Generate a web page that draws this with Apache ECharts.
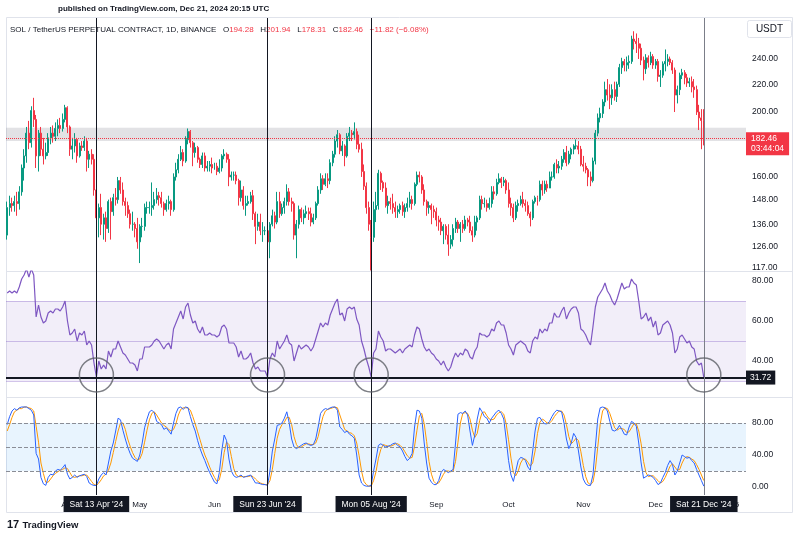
<!DOCTYPE html>
<html>
<head>
<meta charset="utf-8">
<script src="https://cdn.jsdelivr.net/npm/echarts@6/dist/echarts.min.js"></script>
<style>
html, body { margin: 0; padding: 0; background: #fff; }
#main { width: 800px; height: 538px; }
</style>
</head>
<body>
<div id="main"></div>
<script>
// daily candles from Thu 07 Mar 2024, rows are [open, close, low, high]
const ohlc = [
  [131,144,129,147],[144,146,140,150],[146,145,142,149],[145,147,142,150],[147,146,140,152],[146,152,143,155],[152,165,150,167],[165,172,158,176],[172,186,168,190],[186,180,176,194],
  [180,201,177,204],[201,195,190,210],[195,172,165,198],[172,186,163,188],[186,176,172,190],[176,172,167,183],[172,174,170,180],[174,183,172,186],[183,186,179,190],[186,184,180,191],
  [184,189,181,193],[189,191,184,195],[191,189,186,196],[189,195,187,199],[195,203,193,205],[203,190,186,204],[190,176,172,191],[176,178,170,183],[178,182,174,186],[182,172,168,183],
  [172,178,171,180],[178,177,175,181],[177,181,175,184],[181,170,163,183],[170,173,165,175],[173,170,167,176],[170,153,150,173],[153,139,117,155],[139,144,130,146],[144,136,131,151],
  [136,139,129,141],[139,134,128,142],[134,147,132,148],[147,142,129,149],[142,149,140,151],[149,148,145,154],[148,158,146,160],[158,153,151,160],[153,147,145,157],[147,145,140,149],
  [145,141,139,147],[141,136,134,143],[136,136,133,142],[136,134,130,137],[134,128,125,139],[128,135,119,136],[135,135,130,139],[135,144,133,146],[144,144,141,147],[144,144,141,147],
  [144,145,140,157],[145,148,143,152],[148,150,146,154],[150,149,145,152],[149,146,144,152],[146,143,140,147],[143,146,142,148],[146,147,143,150],[147,143,140,148],[143,160,142,162],
  [160,164,158,168],[164,170,162,173],[170,174,169,178],[174,169,166,176],[169,182,168,184],[182,187,179,189],[187,180,177,188],[180,174,166,181],[174,177,171,180],[177,170,168,178],
  [170,167,165,171],[167,172,165,174],[172,165,163,174],[165,166,163,169],[166,167,163,169],[167,165,162,171],[165,166,164,168],[166,163,161,168],[163,165,162,170],[165,172,163,173],
  [172,173,170,176],[173,170,168,174],[170,160,155,173],[160,161,158,163],[161,161,158,163],[161,158,156,163],[158,149,145,159],[149,153,147,158],[153,145,143,155],[145,146,140,150],
  [146,147,145,150],[147,150,146,152],[150,141,138,153],[141,135,127,142],[135,137,133,141],[137,133,131,141],[133,133,128,137],[133,133,131,135],[133,128,126,134],[128,136,121,137],
  [136,140,135,143],[140,137,134,142],[137,147,136,152],[147,141,139,152],[141,144,140,146],[144,147,141,149],[147,152,145,156],[152,147,145,154],[147,146,142,149],[146,131,129,147],
  [131,136,121,138],[136,143,134,145],[143,139,137,144],[139,141,136,143],[141,142,139,145],[142,141,138,144],[141,137,135,144],[137,139,136,141],[139,146,138,147],[146,153,145,155],
  [153,159,151,162],[159,156,153,161],[156,159,155,162],[159,158,154,162],[158,168,156,170],[168,173,166,175],[173,181,171,184],[181,185,177,188],[185,175,173,186],[175,178,172,181],
  [178,172,166,179],[172,184,171,186],[184,186,181,190],[186,185,181,188],[185,187,182,193],[187,179,176,189],[179,176,174,185],[176,163,160,180],[163,155,153,167],[155,144,141,157],
  [144,136,133,147],[136,130,116,138],[130,143,128,147],[143,145,137,152],[145,162,143,164],[162,157,153,163],[157,154,152,158],[154,145,144,157],[145,147,141,150],[147,146,143,149],
  [146,144,141,151],[144,142,139,147],[142,143,139,145],[143,145,141,146],[145,142,140,147],[142,144,139,146],[144,146,142,149],[146,148,144,152],[148,146,143,150],[146,156,145,157],
  [156,161,155,163],[161,160,157,163],[160,153,151,161],[153,147,145,156],[147,144,140,148],[144,145,141,147],[145,143,136,146],[143,142,139,145],[142,138,135,144],[138,137,133,140],
  [137,133,131,139],[133,135,127,136],[135,131,129,136],[131,127,122,136],[127,129,125,131],[129,134,126,136],[134,137,132,139],[137,134,132,138],[134,136,128,137],[136,134,132,138],
  [134,138,133,140],[138,137,135,139],[137,133,132,140],[133,131,128,135],[131,137,130,140],[137,139,133,140],[139,148,138,150],[148,146,143,150],[146,146,144,149],[146,144,142,148],
  [144,146,143,149],[146,152,144,155],[152,151,148,155],[151,157,150,159],[157,159,156,162],[159,157,154,160],[157,158,155,160],[158,153,151,159],[153,146,144,157],[146,144,140,149],
  [144,139,137,146],[139,145,138,147],[145,146,142,148],[146,148,145,150],[148,146,144,152],[146,145,142,148],[145,141,140,147],[141,139,135,142],[139,147,138,148],[147,149,146,150],
  [149,148,145,150],[148,156,147,158],[156,153,150,158],[153,156,151,158],[156,154,152,158],[154,160,154,163],[160,160,158,163],[160,167,159,168],[167,165,162,170],[165,166,162,169],
  [166,170,164,172],[170,174,168,176],[174,168,166,178],[168,173,167,175],[173,176,170,177],[176,178,173,179],[178,178,176,182],[178,176,173,181],[176,167,166,178],[167,166,163,172],
  [166,164,162,168],[164,160,155,165],[160,158,155,163],[158,169,157,171],[169,186,167,188],[186,196,184,199],[196,199,193,203],[199,207,196,209],[207,216,204,222],[216,212,208,224],
  [212,210,202,220],[210,216,205,220],[216,211,208,222],[211,220,207,222],[220,233,218,236],[233,238,228,241],[238,235,230,240],[235,237,230,242],[237,238,232,243],[238,257,236,260],
  [257,255,248,264],[255,253,245,262],[253,249,240,258],[249,239,235,253],[239,232,223,242],[232,241,228,244],[241,237,233,243],[237,242,235,246],[242,235,232,244],[235,238,232,240],
  [238,226,222,240],[226,227,218,231],[227,236,225,238],[236,238,230,248],[238,240,234,244],[240,237,235,242],[237,231,228,239],[231,212,200,233],[212,216,206,219],[216,227,212,229],
  [227,229,224,232],[229,225,220,231],[225,221,218,228],[221,222,218,225],[222,218,214,226],[218,216,210,224],[216,200,198,219],[200,196,188,205],[196,194.28,176,202],[194.28,182.46,178.31,201.94]
];

const rsi = [
  74,75,74,75,74,77,81,83,86,82, 86,83,62,68,62,59,60,64,65,64, 66,66,65,67,70,60,53,54,56,50,
  54,53,55,48,50,48,39,32,40,36, 38,36,45,42,46,46,50,47,44,43, 41,39,39,38,35,41,41,47,47,47,
  48,50,51,50,48,46,48,49,46,56, 59,62,65,61,67,69,63,59,60,56, 54,57,53,53,54,53,53,52,53,57,
  58,56,49,49,49,47,42,45,41,41, 42,44,39,36,37,35,35,35,32,41, 44,42,50,46,48,50,53,49,48,40,
  44,48,46,47,48,47,45,47,51,55, 59,57,59,58,63,66,69,71,63,64, 60,66,67,66,67,61,58,50,46,41,
  37,32,44,46,55,52,50,45,46,46, 45,44,45,46,44,46,47,48,47,53, 57,56,51,47,45,46,44,43,41,40,
  38,40,37,35,37,41,44,42,44,43, 46,45,42,41,45,47,54,53,53,52, 53,56,55,59,60,58,58,54,48,46,
  43,48,49,50,49,48,45,44,50,52, 51,56,54,56,55,59,59,64,62,62, 65,67,61,64,66,67,67,64,56,55,
  53,50,48,57,67,72,74,76,79,75, 73,70,68,71,75,79,76,77,77,81, 79,78,70,61,62,64,60,62,57,60,
  53,54,58,59,60,58,54,44,46,52, 53,51,49,50,47,46,40,38,39,31.72
];

const stochK = [
  78,88,95,98,96,99,100,100,100,98, 96,90,42,35,12,4,2,12,16,15, 20,22,21,24,28,16,10,12,15,12,
  14,15,16,13,5,3,2,2,10,15, 18,15,30,45,55,70,86,84,71,60, 50,42,36,34,32,40,55,74,85,94,
  96,93,82,80,78,72,74,70,66,80, 92,99,100,97,100,99,88,78,70,58, 48,40,33,25,18,12,6,4,18,45,
  65,58,35,20,14,12,13,15,12,13, 14,15,10,5,5,4,3,3,2,20, 45,60,77,78,80,86,94,80,60,50,
  48,50,52,54,55,53,52,53,60,75, 92,96,98,97,99,100,100,96,75,72, 68,70,66,64,61,40,15,5,2,1,
  1,2,20,35,52,54,52,50,51,52, 54,55,52,50,45,38,33,36,42,75, 96,95,86,55,30,11,6,3,3,8,
  18,22,20,18,20,22,55,91,93,92, 95,90,70,52,65,85,99,94,88,86, 80,86,90,94,96,92,85,60,33,15,
  7,20,33,37,36,33,25,21,45,70, 86,87,82,79,79,82,88,93,96,95, 94,80,60,48,55,67,62,45,25,10,
  4,2,2,15,50,85,99,100,99,95, 82,71,70,72,77,72,66,65,75,82, 80,76,55,30,11,13,15,14,12,8,
  3,5,12,18,27,33,28,15,20,30, 40,38,36,37,33,30,22,15,8,1
];

const stochD = [
  70,78,87,94,96,98,98,100,100,99, 98,95,76,56,30,17,6,6,10,14, 17,19,21,22,24,23,18,13,12,13,
  14,14,15,15,11,7,3,2,5,9, 14,16,21,30,43,57,70,80,80,72, 60,51,43,37,34,35,42,56,71,84,
  92,94,90,85,80,77,75,72,70,72, 79,90,97,99,99,99,96,88,79,69, 59,49,40,33,25,18,12,7,9,22,
  43,56,53,38,23,15,13,13,13,13, 13,14,13,10,7,5,4,3,3,8, 22,42,61,72,78,81,87,87,78,63,
  53,49,50,52,54,54,53,53,55,63, 76,88,95,97,98,99,100,99,90,81, 72,70,68,67,64,55,39,20,7,3,
  1,1,8,19,36,47,53,52,51,51, 52,54,54,52,49,44,39,36,37,51, 71,89,92,79,57,32,16,7,4,5,
  10,16,20,20,19,20,32,56,80,92, 93,92,85,71,62,67,83,93,94,89, 85,84,85,90,93,94,91,79,59,36,
  18,14,20,30,35,35,31,26,30,45, 67,81,85,83,80,80,83,88,92,95, 95,90,78,63,54,57,61,58,44,27,
  13,5,3,6,22,50,78,95,99,98, 92,83,74,71,73,73,72,68,69,74, 79,79,70,54,32,18,13,14,14,11,
  8,5,7,12,19,26,29,25,21,22, 30,36,38,37,35,33,28,22,15,8
];

const priceTicks = [117, 126, 136, 148, 160, 200, 220, 240];
const rsiTicks = [40, 60, 80];
const stochTicks = [0, 40, 80];
const markDates = ['2024-04-13', '2024-06-23', '2024-08-05', '2024-12-21'];
const markLabels = ["Sat 13 Apr '24", "Sun 23 Jun '24", "Mon 05 Aug '24", "Sat 21 Dec '24"];
const lastPrice = 182.46;
const rsiLevel = 31.72;
const zoneBand = [181, 189.5];

const monthNames = ['Jan','Feb','Mar','Apr','May','Jun','Jul','Aug','Sep','Oct','Nov','Dec'];
const dates = [];
const startDay = Date.UTC(2024, 2, 7);
for (let i = 0; i < ohlc.length + 17; i++) {
  dates.push(new Date(startDay + i * 86400000).toISOString().slice(0, 10));
}

const FONT = "'Liberation Sans', Arial, sans-serif";
const TXT = '#131722';
const UP = '#089981';
const DOWN = '#f23645';

function vLines(withLabel) {
  return markDates.map(function (d, k) {
    const last = k === markDates.length - 1;
    return {
      xAxis: d,
      lineStyle: { color: last ? '#7b7e88' : '#131722', width: 1, type: 'solid' },
      label: withLabel ? {
        show: true, position: 'start', distance: 1, formatter: markLabels[k],
        backgroundColor: '#131722', color: '#fff', fontSize: 8.5, fontFamily: FONT,
        padding: [4, 6, 3, 6]
      } : { show: false }
    };
  });
}

function hLine(v, color, type) {
  return { yAxis: v, lineStyle: { color: color, width: 1, type: type }, label: { show: false } };
}

const myChart = echarts.init(document.getElementById('main'), null, { renderer: 'canvas' });

const xBase = {
  type: 'category', data: dates, boundaryGap: true,
  axisLine: { show: false }, axisTick: { show: false }, axisLabel: { show: false }, splitLine: { show: false }
};

const yBase = {
  position: 'right', axisLine: { show: false }, axisTick: { show: false }, splitLine: { show: false },
  axisLabel: { color: TXT, fontSize: 8.5, fontFamily: FONT, margin: 6, formatter: v => (+v).toFixed(2) }
};

const option = {
  animation: false,
  backgroundColor: '#fff',
  grid: [
    { left: 6, width: 740, top: 18, height: 253 },
    { left: 6, width: 740, top: 271, height: 127 },
    { left: 6, width: 740, top: 398, height: 97 }
  ],
  xAxis: [
    Object.assign({}, xBase, { gridIndex: 0 }),
    Object.assign({}, xBase, { gridIndex: 1 }),
    Object.assign({}, xBase, {
      gridIndex: 2,
      axisLabel: {
        show: true, color: TXT, fontSize: 8, fontFamily: FONT, margin: 6,
        interval: (i, v) => v.slice(8) === '01',
        formatter: v => { const m = +v.slice(5, 7); return m === 1 ? v.slice(0, 4) : monthNames[m - 1]; }
      }
    })
  ],
  yAxis: [
    Object.assign({}, yBase, { gridIndex: 0, type: 'log', logBase: 10, min: 115.8, max: 276.3,
      axisLabel: Object.assign({}, yBase.axisLabel, { customValues: priceTicks }) }),
    Object.assign({}, yBase, { gridIndex: 1, type: 'value', min: 21.5, max: 85,
      axisLabel: Object.assign({}, yBase.axisLabel, { customValues: rsiTicks }) }),
    Object.assign({}, yBase, { gridIndex: 2, type: 'value', min: -10, max: 111.25,
      axisLabel: Object.assign({}, yBase.axisLabel, { customValues: stochTicks }) })
  ],
  series: [
    {
      name: 'SOLUSDT', type: 'candlestick', xAxisIndex: 0, yAxisIndex: 0, clip: true,
      data: ohlc, barWidth: '62%',
      itemStyle: { color: UP, color0: DOWN, borderColor: UP, borderColor0: DOWN, borderWidth: 1 },
      markArea: {
        silent: true,
        itemStyle: { color: 'rgba(150,150,160,0.28)' },
        data: [[{ yAxis: zoneBand[0] }, { yAxis: zoneBand[1] }]]
      },
      markLine: {
        silent: true, symbol: ['none', 'none'], animation: false,
        data: [
          {
            yAxis: lastPrice, lineStyle: { color: DOWN, width: 1, type: 'dotted' },
            label: {
              show: true, position: 'end', distance: 0, offset: [0, 5], formatter: '182.46\n03:44:04',
              backgroundColor: DOWN, color: '#fff', fontSize: 8.5, fontFamily: FONT,
              lineHeight: 10, padding: [2, 5, 1, 5]
            }
          }
        ].concat(vLines(false))
      }
    },
    {
      name: 'RSI', type: 'line', xAxisIndex: 1, yAxisIndex: 1, data: rsi,
      showSymbol: false, lineStyle: { color: '#7e57c2', width: 1.2 },
      markArea: {
        silent: true,
        itemStyle: { color: 'rgba(126,87,194,0.10)' },
        data: [[{ yAxis: 30 }, { yAxis: 70 }]]
      },
      markLine: {
        silent: true, symbol: ['none', 'none'], animation: false,
        data: [
          hLine(70, 'rgba(126,87,194,0.35)', 'solid'),
          hLine(50, 'rgba(126,87,194,0.35)', 'solid'),
          hLine(30, 'rgba(126,87,194,0.35)', 'solid'),
          {
            yAxis: rsiLevel, lineStyle: { color: TXT, width: 2, type: 'solid' },
            label: {
              show: true, position: 'end', distance: 0, formatter: '31.72',
              backgroundColor: TXT, color: '#fff', fontSize: 8.5, fontFamily: FONT, padding: [3, 4, 2, 4]
            }
          }
        ].concat(vLines(false))
      }
    },
    {
      name: 'circles', type: 'scatter', xAxisIndex: 1, yAxisIndex: 1, z: 5, silent: true,
      data: markDates.map(d => [d, 33]), symbol: 'circle', symbolSize: 34,
      itemStyle: { color: 'rgba(0,0,0,0)', borderColor: '#5d5f66', borderWidth: 1.5 }
    },
    {
      name: '%K', type: 'line', xAxisIndex: 2, yAxisIndex: 2, data: stochK,
      showSymbol: false, lineStyle: { color: '#2962ff', width: 1 }, z: 3,
      markArea: {
        silent: true,
        itemStyle: { color: 'rgba(33,150,243,0.10)' },
        data: [[{ yAxis: 20 }, { yAxis: 80 }]]
      },
      markLine: {
        silent: true, symbol: ['none', 'none'], animation: false,
        data: [
          hLine(80, '#8a8d96', 'dashed'),
          hLine(50, '#8a8d96', 'dashed'),
          hLine(20, '#8a8d96', 'dashed')
        ].concat(vLines(true))
      }
    },
    {
      name: '%D', type: 'line', xAxisIndex: 2, yAxisIndex: 2, data: stochD,
      showSymbol: false, lineStyle: { color: '#ff9800', width: 1 }, z: 2
    }
  ],
  graphic: [
    { type: 'rect', shape: { x: 6.5, y: 17.5, width: 786, height: 495 }, style: { fill: 'none', stroke: '#e0e3eb', lineWidth: 1 }, silent: true, z: -1 },
    { type: 'line', shape: { x1: 7, y1: 271.5, x2: 793, y2: 271.5 }, style: { stroke: '#e0e3eb', lineWidth: 1 }, silent: true },
    { type: 'line', shape: { x1: 7, y1: 397.5, x2: 793, y2: 397.5 }, style: { stroke: '#e0e3eb', lineWidth: 1 }, silent: true },
    {
      type: 'text', left: 58, top: 5,
      style: { text: 'published on TradingView.com, Dec 21, 2024 20:15 UTC', fill: TXT, font: "bold 8px 'Liberation Sans', Arial, sans-serif" }
    },
    {
      type: 'text', left: 10, top: 24,
      style: {
        text: '{n|SOL / TetherUS PERPETUAL CONTRACT, 1D, BINANCE}  {n|O}{r|194.28}  {n|H}{r|201.94}  {n|L}{r|178.31}  {n|C}{r|182.46}  {r|\u221211.82 (\u22126.08%)}',
        rich: {
          n: { fill: TXT, fontSize: 8, fontFamily: FONT },
          r: { fill: DOWN, fontSize: 8, fontFamily: FONT }
        }
      }
    },
    { type: 'rect', shape: { x: 747.5, y: 20.5, width: 44, height: 17, r: 2 }, style: { fill: '#fff', stroke: '#e0e3eb', lineWidth: 1 }, z: 10 },
    {
      type: 'text', x: 769.5, y: 29, z: 11,
      style: { text: 'USDT', fill: TXT, fontSize: 10, fontFamily: FONT, align: 'center', verticalAlign: 'middle' }
    },
    {
      type: 'text', left: 7, top: 519,
      style: {
        text: '{l|17} {t|TradingView}',
        rich: {
          l: { fill: TXT, fontSize: 11, fontWeight: 900, fontFamily: FONT },
          t: { fill: TXT, fontSize: 9.5, fontWeight: 'bold', fontFamily: FONT }
        }
      }
    }
  ]
};

myChart.setOption(option);
</script>
</body>
</html>
